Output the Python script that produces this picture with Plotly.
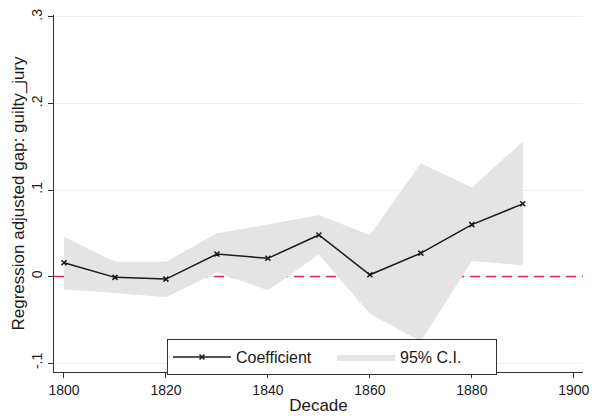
import plotly.graph_objects as go

# Decade-level regression estimates with 95% confidence bounds
decades = [1800, 1810, 1820, 1830, 1840, 1850, 1860, 1870, 1880, 1890]
coef = [0.016, -0.001, -0.003, 0.026, 0.021, 0.048, 0.002, 0.027, 0.060, 0.084]
ci_upper = [0.046, 0.017, 0.017, 0.050, 0.060, 0.071, 0.048, 0.131, 0.103, 0.156]
ci_lower = [-0.015, -0.019, -0.024, 0.005, -0.016, 0.025, -0.043, -0.075, 0.018, 0.013]

x_ticks = [1800, 1820, 1840, 1860, 1880, 1900]
y_ticks = [-0.1, 0, 0.1, 0.2, 0.3]
y_tick_text = ["-.1", "0", ".1", ".2", ".3"]
x_range = [1798.04, 1901.8]

FONT = "Liberation Sans, Arial, Helvetica, sans-serif"
BAND = "#e4e4e4"

fig = go.Figure()

# zero reference line, drawn first so the band covers it
fig.add_trace(go.Scatter(
    x=x_range, y=[0, 0], mode="lines",
    line=dict(color="#e0284a", width=1.5, dash="10px,6px"),
    showlegend=False, hoverinfo="skip",
))

# confidence band: lower bound first, upper bound fills down to it
fig.add_trace(go.Scatter(
    x=decades, y=ci_lower, mode="lines", line=dict(width=0, color=BAND),
    showlegend=False, hoverinfo="skip",
))
fig.add_trace(go.Scatter(
    x=decades, y=ci_upper, mode="lines", line=dict(width=0, color=BAND),
    fill="tonexty", fillcolor=BAND, name="95% C.I.", legendrank=2,
))
fig.add_trace(go.Scatter(
    x=decades, y=coef, mode="lines+markers", name="Coefficient",
    line=dict(color="#1a1a1a", width=1.5),
    marker=dict(symbol="x-thin", size=5, color="#1a1a1a",
                line=dict(width=1.5, color="#1a1a1a")),
    legendrank=1,
))

fig.update_layout(
    width=592, height=416,
    margin=dict(l=54, r=9, t=15, b=44),
    paper_bgcolor="white", plot_bgcolor="white",
    font=dict(family=FONT, size=14, color="#1a1a1a"),
    showlegend=True,
    legend=dict(
        orientation="h", x=0.2136, y=0.0924, xanchor="left", yanchor="top",
        bgcolor="white", bordercolor="#333333", borderwidth=1,
        font=dict(size=16), itemwidth=58, traceorder="normal",
        entrywidth=91, entrywidthmode="pixels",
    ),
    xaxis=dict(
        range=x_range, tickvals=x_ticks, showgrid=False,
        zeroline=False, showline=True, linecolor="#333333", linewidth=1,
        ticks="outside", ticklen=5, tickcolor="#333333", automargin=False,
        title=dict(text="Decade", standoff=2),
    ),
    yaxis=dict(
        range=[-0.1104, 0.3023], tickvals=y_ticks, ticktext=y_tick_text,
        tickangle=-90, showgrid=True, gridcolor="#e8f0f2", gridwidth=1,
        zeroline=False, showline=True, linecolor="#333333", linewidth=1,
        ticks="outside", ticklen=5, tickcolor="#333333", automargin=False,
        title=dict(text="Regression adjusted gap: guilty_jury", standoff=0),
    ),
)

fig.write_html("out.html")
